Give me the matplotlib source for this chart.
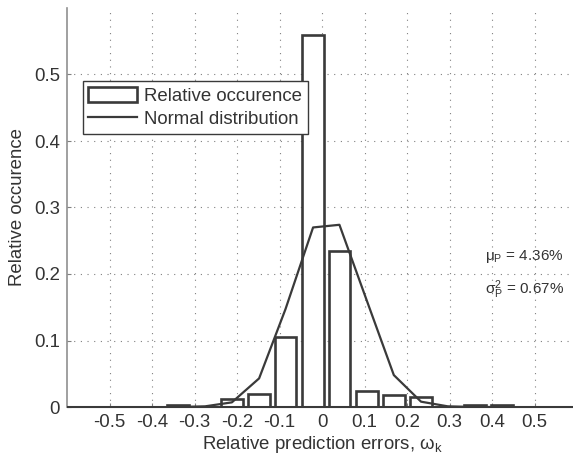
import matplotlib
matplotlib.use("Agg")
import matplotlib.pyplot as plt

# histogram of relative prediction errors (bin centres, bar heights)
bin_centers = [-0.339, -0.275, -0.212, -0.148, -0.086, -0.021, 0.041,
               0.106, 0.169, 0.233, 0.296, 0.360, 0.423]
occurrence = [0.003, 0.0, 0.012, 0.020, 0.106, 0.560, 0.234,
              0.024, 0.018, 0.015, 0.0, 0.003, 0.003]
normal_fit = [0.0, 0.001, 0.007, 0.043, 0.147, 0.270, 0.274,
              0.159, 0.048, 0.008, 0.001, 0.0, 0.0]
bar_width = 0.0507

x_ticks = [-0.5, -0.4, -0.3, -0.2, -0.1, 0, 0.1, 0.2, 0.3, 0.4, 0.5]
x_labels = ["-0.5", "-0.4", "-0.3", "-0.2", "-0.1", "0", "0.1", "0.2", "0.3", "0.4", "0.5"]
y_ticks = [0, 0.1, 0.2, 0.3, 0.4, 0.5]
y_labels = ["0", "0.1", "0.2", "0.3", "0.4", "0.5"]

FG = "#3a3a3a"
TXT = "#333333"

plt.rcParams["font.family"] = ["Liberation Sans", "DejaVu Sans"]
plt.rcParams["mathtext.fontset"] = "custom"
plt.rcParams["mathtext.rm"] = "Liberation Sans"
plt.rcParams["mathtext.it"] = "Liberation Sans:italic"
plt.rcParams["font.size"] = 13.4

fig = plt.figure(figsize=(5.73, 4.61), dpi=100)
ax = fig.add_axes([67 / 573, 54 / 461, 510 / 573, 399 / 461])

bars = ax.bar(bin_centers, occurrence, width=bar_width, facecolor="white",
              edgecolor=FG, linewidth=1.9, label="Relative occurence", zorder=2)
line, = ax.plot(bin_centers, normal_fit, color=FG, linewidth=1.6,
                label="Normal distribution", zorder=3)
ax.axhline(0, color=FG, linewidth=2.2, zorder=4)

ax.set_xlim(-0.6, 0.6)
ax.set_ylim(0, 0.6)
ax.set_xticks(x_ticks, x_labels)
ax.set_yticks(y_ticks, y_labels)
ax.tick_params(direction="in", length=3, colors="#808080", labelcolor=TXT, pad=5)
ax.grid(True, linestyle=(0, (1, 5)), color="#808080", linewidth=0.8, zorder=0)
ax.set_axisbelow(True)

for s in ("top", "right"):
    ax.spines[s].set_visible(False)
ax.spines["left"].set_color("#909090")
ax.spines["left"].set_linewidth(1.2)
ax.spines["bottom"].set_color(FG)

ax.set_xlabel("Relative prediction errors, ω$_\\mathregular{k}$", color=TXT, labelpad=2)
ax.set_ylabel("Relative occurence", color=TXT, labelpad=6)

ax.text(0.384, 0.227, "μ$_\\mathregular{P}$ = 4.36%", color=TXT, va="center", fontsize=11)
ax.text(0.384, 0.177, "σ$_\\mathregular{P}^\\mathregular{2}$ = 0.67%", color=TXT,
        va="center", fontsize=11)

leg = ax.legend([bars, line], ["Relative occurence", "Normal distribution"],
                loc="upper left", bbox_to_anchor=(0.031, 0.817), borderaxespad=0,
                fancybox=False, framealpha=1, edgecolor=FG, handlelength=2.6,
                handleheight=0.9, handletextpad=0.4, borderpad=0.3, labelspacing=0.3)
leg.get_frame().set_linewidth(1.0)
for t in leg.get_texts():
    t.set_color(TXT)

fig.savefig("out.png", dpi=100)
